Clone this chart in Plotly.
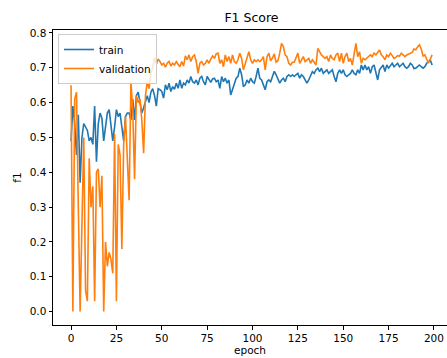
import plotly.graph_objects as go

epochs = list(range(200))

train = [
    0.49, 0.59, 0.54, 0.45, 0.565, 0.37, 0.50, 0.54, 0.53, 0.52,
    0.49, 0.50, 0.48, 0.59, 0.43, 0.54, 0.57, 0.555, 0.49, 0.53,
    0.57, 0.58, 0.54, 0.49, 0.53, 0.58, 0.56, 0.57, 0.53, 0.49,
    0.56, 0.57, 0.57, 0.55, 0.61, 0.55, 0.62, 0.63, 0.60, 0.57,
    0.585, 0.60, 0.62, 0.60, 0.63, 0.64, 0.62, 0.59, 0.64,
    0.637, 0.632, 0.613, 0.651, 0.637, 0.656, 0.632, 0.646, 0.638, 0.656, 0.641,
    0.665, 0.641, 0.656, 0.651, 0.665, 0.656, 0.675, 0.660, 0.656, 0.665,
    0.651, 0.670, 0.675, 0.660, 0.651, 0.675, 0.665, 0.658, 0.668, 0.670,
    0.660, 0.665, 0.641, 0.675, 0.660, 0.670, 0.656, 0.665, 0.622, 0.637,
    0.656, 0.670, 0.675, 0.699, 0.680, 0.646, 0.651, 0.665, 0.656, 0.670,
    0.660, 0.656, 0.675, 0.699, 0.670, 0.665, 0.651, 0.637, 0.660, 0.665,
    0.660, 0.675, 0.690, 0.680, 0.665, 0.656, 0.665, 0.670, 0.660, 0.675,
    0.680, 0.675, 0.680, 0.675, 0.680, 0.684, 0.670, 0.680, 0.675, 0.665,
    0.656, 0.665, 0.675, 0.689, 0.684, 0.694, 0.699, 0.689, 0.699, 0.684,
    0.689, 0.694, 0.684, 0.689, 0.694, 0.675, 0.660, 0.684, 0.694, 0.684,
    0.694, 0.680, 0.675, 0.680, 0.684, 0.694, 0.684, 0.680, 0.694, 0.684,
    0.708, 0.694, 0.708, 0.694, 0.703, 0.684, 0.703, 0.708, 0.689, 0.665,
    0.694, 0.703, 0.708, 0.689, 0.708, 0.699, 0.708, 0.713, 0.703, 0.708,
    0.713, 0.703, 0.708, 0.713, 0.703, 0.699, 0.703, 0.713, 0.708, 0.698,
    0.699, 0.703, 0.708, 0.703, 0.699, 0.703, 0.713, 0.718, 0.722, 0.708,
]

validation = [
    0.65, 0.00, 0.61, 0.63, 0.30, 0.00, 0.25, 0.50, 0.06, 0.03,
    0.44, 0.30, 0.36, 0.03, 0.40, 0.41, 0.30, 0.39, 0.00, 0.20,
    0.13, 0.17, 0.15, 0.11, 0.51, 0.03, 0.48, 0.45, 0.18, 0.48,
    0.56, 0.45, 0.32, 0.66, 0.58, 0.38, 0.62, 0.60, 0.61, 0.55,
    0.455, 0.62, 0.66, 0.64, 0.685, 0.70, 0.73, 0.71, 0.725,
    0.718, 0.708, 0.713, 0.702, 0.713, 0.718, 0.705, 0.713, 0.708, 0.718, 0.710,
    0.703, 0.718, 0.705, 0.734, 0.723, 0.737, 0.718, 0.732, 0.737, 0.718,
    0.684, 0.713, 0.718, 0.708, 0.713, 0.723, 0.713, 0.725, 0.734, 0.727,
    0.740, 0.742, 0.713, 0.723, 0.703, 0.737, 0.718, 0.732, 0.713, 0.737,
    0.718, 0.713, 0.723, 0.742, 0.727, 0.694, 0.713, 0.732, 0.746, 0.723,
    0.713, 0.723, 0.718, 0.723, 0.718, 0.723, 0.732, 0.694, 0.732, 0.742,
    0.720, 0.728, 0.740, 0.716, 0.720, 0.742, 0.770, 0.761, 0.737, 0.732,
    0.713, 0.708, 0.716, 0.716, 0.727, 0.742, 0.713, 0.723, 0.732, 0.718,
    0.723, 0.727, 0.713, 0.723, 0.716, 0.708, 0.756, 0.746, 0.737, 0.732,
    0.727, 0.732, 0.718, 0.737, 0.727, 0.723, 0.737, 0.742, 0.718, 0.742,
    0.713, 0.732, 0.742, 0.718, 0.727, 0.708, 0.737, 0.770, 0.732, 0.746,
    0.713, 0.727, 0.723, 0.727, 0.732, 0.737, 0.732, 0.742, 0.737, 0.746,
    0.751, 0.737, 0.732, 0.723, 0.737, 0.732, 0.742, 0.735, 0.727, 0.730,
    0.735, 0.733, 0.742, 0.737, 0.732, 0.737, 0.740, 0.742, 0.744, 0.754,
    0.752, 0.760, 0.766, 0.754, 0.734, 0.737, 0.727, 0.713, 0.725, 0.737,
]

x_ticks = [0, 25, 50, 75, 100, 125, 150, 175, 200]
y_ticks = [0.0, 0.1, 0.2, 0.3, 0.4, 0.5, 0.6, 0.7, 0.8]

FONT = "DejaVu Sans"

fig = go.Figure()
fig.add_trace(go.Scatter(x=epochs, y=train, mode="lines", name="train",
                         line=dict(color="#1f77b4", width=1.6)))
fig.add_trace(go.Scatter(x=epochs, y=validation, mode="lines", name="validation",
                         line=dict(color="#ff7f0e", width=1.6)))

fig.update_layout(
    width=447, height=358,
    margin=dict(l=53, r=0, t=30, b=33),
    paper_bgcolor="white", plot_bgcolor="white",
    font=dict(family=FONT, size=10.5, color="black"),
    title=dict(text="F1 Score", x=251.5 / 447, xref="container", xanchor="center",
               y=1 - 18 / 358, yref="container", yanchor="middle",
               font=dict(family=FONT, size=12.5, color="black")),
    showlegend=True,
    legend=dict(x=5 / 394, y=1 - 4 / 295, xanchor="left", yanchor="top",
                bgcolor="rgba(255,255,255,0.8)", bordercolor="#cccccc", borderwidth=1,
                font=dict(family=FONT, size=10.5, color="black"),
                itemwidth=30, tracegroupgap=0),
)

fig.update_xaxes(
    range=[-9.95, 207.2], tickmode="array", tickvals=x_ticks,
    ticktext=[str(t) for t in x_ticks],
    showgrid=False, zeroline=False, showline=True, linecolor="black", linewidth=1,
    mirror=True, ticks="outside", ticklen=3.5, tickcolor="black",
    tickfont=dict(family=FONT, size=10.5),
    title=dict(text="epoch", standoff=3, font=dict(family=FONT, size=10.5)),
)
fig.update_yaxes(
    range=[-0.0385, 0.8085], tickmode="array", tickvals=y_ticks,
    ticktext=[f"{t:.1f}" for t in y_ticks],
    showgrid=False, zeroline=False, showline=True, linecolor="black", linewidth=1,
    mirror=False, ticks="outside", ticklen=3.5, tickcolor="black",
    tickfont=dict(family=FONT, size=10.5),
    title=dict(text="f1", standoff=6, font=dict(family=FONT, size=10.5)),
)

fig.write_html("out.html")
